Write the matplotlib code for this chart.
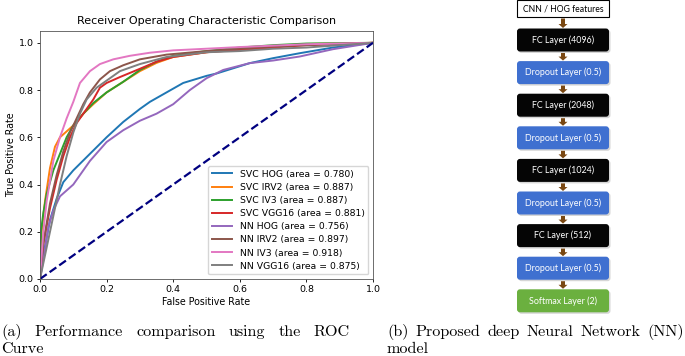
import matplotlib
matplotlib.use('Agg')
import matplotlib.pyplot as plt
from matplotlib.patches import FancyBboxPatch

# ROC curve points
svc_hog_x = [0, 0.01, 0.03, 0.05, 0.07, 0.1, 0.15, 0.2, 0.25, 0.3, 0.33, 0.38, 0.43, 0.5, 0.53, 0.63, 0.7, 0.78, 0.88, 1.0]
svc_hog_y = [0, 0.1, 0.25, 0.34, 0.41, 0.46, 0.53, 0.6, 0.665, 0.72, 0.75, 0.79, 0.83, 0.86, 0.87, 0.914, 0.935, 0.956, 0.98, 1.0]
svc_irv2_x = [0, 0.005, 0.015, 0.03, 0.045, 0.06, 0.08, 0.1, 0.13, 0.16, 0.2, 0.25, 0.3, 0.35, 0.4, 0.5, 0.6, 0.7, 0.8, 1.0]
svc_irv2_y = [0, 0.2, 0.33, 0.47, 0.56, 0.6, 0.625, 0.65, 0.7, 0.74, 0.79, 0.835, 0.88, 0.915, 0.94, 0.96, 0.975, 0.985, 0.995, 1.0]
svc_iv3_x = [0, 0.003, 0.01, 0.02, 0.04, 0.06, 0.08, 0.1, 0.13, 0.16, 0.2, 0.25, 0.3, 0.35, 0.4, 0.5, 0.6, 0.7, 0.8, 1.0]
svc_iv3_y = [0, 0.2, 0.28, 0.36, 0.46, 0.53, 0.6, 0.65, 0.7, 0.745, 0.79, 0.835, 0.885, 0.92, 0.945, 0.965, 0.98, 0.99, 0.997, 1.0]
svc_vgg16_x = [0, 0.01, 0.03, 0.05, 0.07, 0.09, 0.11, 0.14, 0.16, 0.18, 0.2, 0.24, 0.3, 0.35, 0.4, 0.5, 0.6, 0.7, 0.8, 1.0]
svc_vgg16_y = [0, 0.15, 0.3, 0.42, 0.52, 0.6, 0.66, 0.72, 0.76, 0.81, 0.83, 0.855, 0.89, 0.92, 0.94, 0.96, 0.97, 0.98, 0.99, 1.0]
nn_hog_x = [0, 0.01, 0.025, 0.04, 0.06, 0.1, 0.15, 0.2, 0.25, 0.3, 0.35, 0.4, 0.45, 0.5, 0.55, 0.63, 0.7, 0.78, 0.88, 1.0]
nn_hog_y = [0, 0.08, 0.22, 0.29, 0.35, 0.4, 0.5, 0.58, 0.63, 0.67, 0.7, 0.74, 0.8, 0.85, 0.885, 0.914, 0.925, 0.942, 0.973, 1.0]
nn_irv2_x = [0, 0.01, 0.03, 0.05, 0.07, 0.09, 0.11, 0.13, 0.15, 0.18, 0.21, 0.25, 0.3, 0.38, 0.5, 0.6, 0.7, 0.8, 1.0]
nn_irv2_y = [0, 0.15, 0.32, 0.44, 0.54, 0.62, 0.68, 0.74, 0.79, 0.845, 0.88, 0.905, 0.93, 0.95, 0.965, 0.975, 0.985, 0.99, 1.0]
nn_iv3_x = [0, 0.01, 0.02, 0.04, 0.06, 0.08, 0.1, 0.12, 0.15, 0.18, 0.22, 0.27, 0.33, 0.4, 0.5, 0.6, 0.7, 0.8, 1.0]
nn_iv3_y = [0, 0.2, 0.33, 0.5, 0.6, 0.68, 0.75, 0.83, 0.88, 0.91, 0.93, 0.945, 0.958, 0.968, 0.975, 0.982, 0.988, 0.994, 1.0]
nn_vgg16_x = [0, 0.015, 0.03, 0.045, 0.06, 0.08, 0.1, 0.12, 0.14, 0.17, 0.2, 0.24, 0.3, 0.38, 0.5, 0.6, 0.7, 0.8, 0.9, 1.0]
nn_vgg16_y = [0, 0.1, 0.2, 0.3, 0.4, 0.52, 0.62, 0.7, 0.76, 0.81, 0.84, 0.88, 0.91, 0.94, 0.96, 0.965, 0.975, 0.98, 0.99, 1.0]

names = ['SVC HOG', 'SVC IRV2', 'SVC IV3', 'SVC VGG16', 'NN HOG', 'NN IRV2', 'NN IV3', 'NN VGG16']
areas = [0.780, 0.887, 0.887, 0.881, 0.756, 0.897, 0.918, 0.875]
curves = [(svc_hog_x, svc_hog_y), (svc_irv2_x, svc_irv2_y), (svc_iv3_x, svc_iv3_y),
          (svc_vgg16_x, svc_vgg16_y), (nn_hog_x, nn_hog_y), (nn_irv2_x, nn_irv2_y),
          (nn_iv3_x, nn_iv3_y), (nn_vgg16_x, nn_vgg16_y)]

# network diagram
layers = ['CNN / HOG features', 'FC Layer (4096)', 'Dropout Layer (0.5)', 'FC Layer (2048)',
          'Dropout Layer (0.5)', 'FC Layer (1024)', 'Dropout Layer (0.5)', 'FC Layer (512)',
          'Dropout Layer (0.5)', 'Softmax Layer (2)']
layer_kind = ['input', 'fc', 'drop', 'fc', 'drop', 'fc', 'drop', 'fc', 'drop', 'soft']
kind_colors = {'input': 'white', 'fc': '#050505', 'drop': '#3f70d0', 'soft': '#6bb03f'}

cap_a = ['(a) Performance comparison using the ROC', 'Curve']
cap_b = ['(b) Proposed deep Neural Network (NN)', 'model']

fig = plt.figure(figsize=(6.85, 3.56), dpi=100)

# ROC plot
ax = fig.add_axes([40 / 685, 1 - 279 / 356, 333 / 685, 248 / 356])
for (x, y), n, a in zip(curves, names, areas):
    ax.plot(x, y, lw=1.4, label='%s (area = %0.3f)' % (n, a))
ax.plot([0, 1], [0, 1], color='navy', lw=1.6, linestyle='--')
ax.set_xlim(0.0, 1.0)
ax.set_ylim(0.0, 1.05)
ax.set_xlabel('False Positive Rate', fontsize=6.85, labelpad=2)
ax.set_ylabel('True Positive Rate', fontsize=6.85, labelpad=2)
ax.set_title('Receiver Operating Characteristic Comparison', fontsize=8.0, pad=5)
ax.tick_params(labelsize=6.8, length=2.5, width=0.6, pad=2)
for s in ax.spines.values():
    s.set_linewidth(0.6)
    s.set_color('#555555')
ax.legend(loc='lower right', fontsize=6.65, handlelength=2.2, labelspacing=0.45, borderpad=0.4)

# overlay in pixel coords for diagram and captions
ov = fig.add_axes([0, 0, 1, 1])
ov.set_xlim(0, 685)
ov.set_ylim(356, 0)
ov.axis('off')

bx0, bw = 517, 92
for i, (lab, kind) in enumerate(zip(layers, layer_kind)):
    if i == 0:
        top, h = 0, 17
    else:
        top, h = 28.5 + (i - 1) * 32.6, 23
    if kind == 'input':
        ov.add_patch(plt.Rectangle((bx0, top), bw, h, facecolor='white', edgecolor='black', lw=0.8))
        ov.text(bx0 + bw / 2, top + h / 2, lab, ha='center', va='center', fontsize=6.2,
                family='Lato', color='black')
    else:
        ov.add_patch(FancyBboxPatch((bx0 + 1.5, top + 1.5), bw, h, boxstyle='round,pad=0,rounding_size=3',
                                    facecolor='#bbbbbb', edgecolor='none', alpha=0.6))
        ov.add_patch(FancyBboxPatch((bx0, top), bw, h, boxstyle='round,pad=0,rounding_size=3',
                                    facecolor=kind_colors[kind], edgecolor='none'))
        ov.text(bx0 + bw / 2, top + h / 2, lab, ha='center', va='center', fontsize=6.4,
                family='Lato', color='white')
    # arrow down to the next box
    if i < len(layers) - 1:
        y0 = top + h + 1.5
        y1 = 28.5 + i * 32.6 - 0.5
        ov.arrow(bx0 + bw / 2, y0, 0, y1 - y0, width=4, head_width=9, head_length=4,
                 length_includes_head=True, color='#7a4812', lw=0)

# captions, justified on the first line
fig.canvas.draw()
rend = fig.canvas.get_renderer()
cap_size = 11.6


def justified(words, x0, x1, y):
    arts = [ov.text(0, y, w, fontsize=cap_size, family='cmr10', va='center') for w in words]
    widths = []
    for t in arts:
        bb = t.get_window_extent(renderer=rend)
        widths.append(bb.width)
    gap = max((x1 - x0 - sum(widths)) / (len(words) - 1), 4)
    x = x0
    for t, w in zip(arts, widths):
        t.set_x(x)
        x += w + gap


justified(cap_a[0].split(' '), 1, 350, 332)
ov.text(1, 349, cap_a[1], fontsize=cap_size, family='cmr10', va='center')
justified(cap_b[0].split(' '), 387, 684, 332)
ov.text(387, 349, cap_b[1], fontsize=cap_size, family='cmr10', va='center')

fig.savefig('out.png', dpi=100)
